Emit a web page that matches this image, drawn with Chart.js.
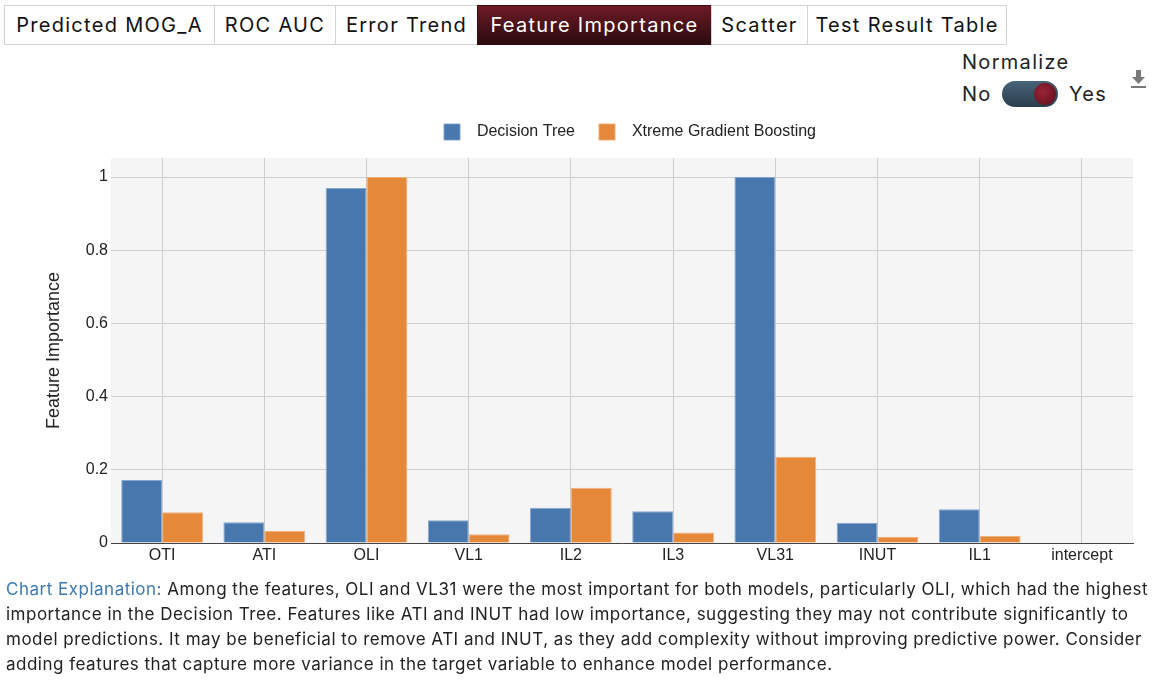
<!DOCTYPE html>
<html>
<head>
<meta charset="utf-8">
<script src="https://cdn.jsdelivr.net/npm/chart.js@4.4.1/dist/chart.umd.min.js"></script>
<style>
  body { margin: 0; background: #fff; font-family: Inter, "Open Sans", sans-serif; color: #222; }
  #page { position: relative; width: 1153px; height: 685px; overflow: hidden; }
  .tabs { position: absolute; left: 5px; top: 5px; display: flex; }
  .tab { height: 38px; line-height: 38px; border: 1px solid #d4d4d4; margin-left: -1px; text-align: center; font-size: 20px; letter-spacing: 1.3px; color: #111; box-sizing: content-box; }
  .tab.active { background: linear-gradient(#6e1a26, #2a0b10); color: #fff; border-color: #3a0d14; }
  .norm { position: absolute; left: 962px; top: 50px; font-size: 20px; letter-spacing: 1.3px; color: #222; }
  .row { position: absolute; left: 962px; top: 82px; font-size: 20px; letter-spacing: 1.3px; color: #222; }
  .switch { position: absolute; left: 1002px; top: 81px; width: 56px; height: 26px; border-radius: 13px; background: linear-gradient(#47647a, #2c3d4a); }
  .knob { position: absolute; right: 2px; top: 2px; width: 22px; height: 22px; border-radius: 11px; background: radial-gradient(circle at 40% 40%, #9a2436, #5a0f1b); }
  .yes { position: absolute; left: 1069px; top: 82px; font-size: 20px; letter-spacing: 1.3px; }
  .dl { position: absolute; left: 1130px; top: 69px; }
  #wrap { position: absolute; left: 0; top: 100px; width: 1153px; height: 480px; }
  .expl { position: absolute; left: 6px; top: 577px; font-size: 17px; letter-spacing: 0.5px; line-height: 25px; color: #222; white-space: nowrap; }
  .expl span { color: #3d79b0; }
</style>
</head>
<body>
<div id="page">
  <div class="tabs">
    <div class="tab" style="width:209px">Predicted MOG_A</div>
    <div class="tab" style="width:120px">ROC AUC</div>
    <div class="tab" style="width:141px">Error Trend</div>
    <div class="tab active" style="width:233px">Feature Importance</div>
    <div class="tab" style="width:95px">Scatter</div>
    <div class="tab" style="width:198px">Test Result Table</div>
  </div>
  <div class="norm">Normalize</div>
  <div class="row">No</div>
  <div class="switch"><div class="knob"></div></div>
  <div class="yes">Yes</div>
  <svg class="dl" width="17" height="20" viewBox="0 0 17 20">
    <path d="M6 1h5v7h4l-6.5 7L2 8h4z" fill="#7a7a7a"/>
    <rect x="1" y="17" width="15" height="2" fill="#7a7a7a"/>
  </svg>
  <div id="wrap"><canvas id="chart"></canvas></div>
  <div class="expl">
    <span>Chart Explanation:</span> Among the features, OLI and VL31 were the most important for both models, particularly OLI, which had the highest<br>
    importance in the Decision Tree. Features like ATI and INUT had low importance, suggesting they may not contribute significantly to<br>
    model predictions. It may be beneficial to remove ATI and INUT, as they add complexity without improving predictive power. Consider<br>
    adding features that capture more variance in the target variable to enhance model performance.
  </div>
</div>
<script>
'use strict';

var features = ['OTI', 'ATI', 'OLI', 'VL1', 'IL2', 'IL3', 'VL31', 'INUT', 'IL1', 'intercept'];
var decisionTree = [0.172, 0.057, 0.970, 0.062, 0.096, 0.087, 1.0, 0.055, 0.092, 0];
var xgBoost = [0.084, 0.033, 1.0, 0.024, 0.151, 0.029, 0.236, 0.017, 0.019, 0];
var yTicks = [0, 0.2, 0.4, 0.6, 0.8, 1];

var FeatureChart = function(){

    var _plotBg = {
        id: 'plotBg',
        beforeDraw: function(chart){
            var a = chart.chartArea, ctx = chart.ctx;
            ctx.save();
            ctx.fillStyle = '#f5f5f5';
            ctx.fillRect(a.left, a.top, a.right - a.left, a.bottom - a.top);
            ctx.restore();
        }
    };

    // fixed legend height so the plot top lands where the original has it
    var _legendHeight = {
        id: 'legendHeight',
        beforeInit: function(chart){
            var fit = chart.legend.fit;
            chart.legend.fit = function(){
                fit.call(this);
                this.height = 58;
            };
        },
        afterLayout: function(chart){
            chart.legend.left += 8;
            chart.legend.right += 8;
        }
    };

    var _draw = function(){
        var ctx = document.getElementById('chart').getContext('2d');
        var font = 'Liberation Sans, Arial, sans-serif';
        var config = {
            type: 'bar',
            data: {
                labels: features,
                datasets: [{
                    label: '  Decision Tree',
                    backgroundColor: '#4877ae',
                    borderColor: 'rgba(120,160,205,0.9)',
                    borderWidth: 1,
                    data: decisionTree
                }, {
                    label: '  Xtreme Gradient Boosting',
                    backgroundColor: '#e5883a',
                    borderColor: 'rgba(240,170,110,0.9)',
                    borderWidth: 1,
                    data: xgBoost
                }]
            },
            options: {
                responsive: true,
                maintainAspectRatio: false,
                animation: false,
                layout: { padding: { left: 0, right: 20, top: 0, bottom: 0 } },
                datasets: { bar: { barPercentage: 1, categoryPercentage: 0.8 } },
                plugins: {
                    tooltip: { enabled: false },
                    legend: {
                        position: 'top',
                        fullSize: false,
                        labels: {
                            boxWidth: 16, boxHeight: 16, padding: 24,
                            color: '#222',
                            font: { family: font, size: 16 }
                        }
                    }
                },
                scales: {
                    x: {
                        afterFit: function(s){ s.height = 37; },
                        grid: { offset: false, color: '#cdcdcd', lineWidth: 1, drawTicks: false },
                        border: { color: '#444', width: 1 },
                        ticks: { color: '#222', padding: 3, font: { family: font, size: 16 } }
                    },
                    y: {
                        min: 0,
                        max: 1.052,
                        afterFit: function(s){ s.width = 111; },
                        afterBuildTicks: function(s){
                            s.ticks = yTicks.map(function(v){ return { value: v }; });
                        },
                        grid: { color: '#d0d0d0', lineWidth: 1, drawTicks: false },
                        border: { display: false },
                        ticks: {
                            color: '#222', padding: 3,
                            font: { family: font, size: 16 },
                            callback: function(v){ return String(v); }
                        },
                        title: {
                            display: true,
                            text: 'Feature Importance',
                            color: '#222',
                            padding: { top: 43, bottom: 0 },
                            font: { family: font, size: 18 }
                        }
                    }
                }
            },
            plugins: [_plotBg, _legendHeight]
        };
        window.featureChart = new Chart(ctx, config);
    };

    return {
        init: function(){ _draw(); }
    };
}();

document.addEventListener('DOMContentLoaded', function(){
    FeatureChart.init();
});
</script>
</body>
</html>
